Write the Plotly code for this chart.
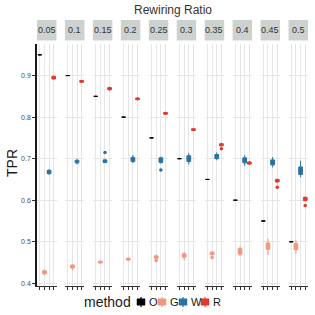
import plotly.graph_objects as go

ratios = ["0.05", "0.1", "0.15", "0.2", "0.25", "0.3", "0.35", "0.4", "0.45", "0.5"]
methods = ["O", "G", "W", "R"]
colors = {"O": "#000000", "G": "#F3967E", "W": "#2B72A3", "R": "#E2382D"}

# O (constant)
O_med = [0.95, 0.90, 0.85, 0.80, 0.75, 0.70, 0.65, 0.60, 0.55, 0.50]

# G
G_low = [0.419, 0.431, 0.447, 0.453, 0.458, 0.455, 0.466, 0.465, 0.468, 0.472]
G_q1 = [0.423, 0.437, 0.449, 0.456, 0.460, 0.463, 0.469, 0.470, 0.482, 0.481]
G_med = [0.427, 0.441, 0.451, 0.458, 0.463, 0.467, 0.472, 0.477, 0.489, 0.488]
G_q3 = [0.430, 0.444, 0.453, 0.460, 0.466, 0.471, 0.475, 0.484, 0.497, 0.496]
G_high = [0.433, 0.447, 0.455, 0.462, 0.469, 0.476, 0.478, 0.489, 0.507, 0.504]

# W
W_low = [0.661, 0.686, 0.689, 0.690, 0.688, 0.686, 0.696, 0.683, 0.679, 0.655]
W_q1 = [0.664, 0.690, 0.691, 0.693, 0.691, 0.693, 0.700, 0.690, 0.685, 0.662]
W_med = [0.668, 0.693, 0.694, 0.698, 0.696, 0.700, 0.706, 0.696, 0.691, 0.671]
W_q3 = [0.672, 0.696, 0.697, 0.703, 0.702, 0.707, 0.710, 0.702, 0.697, 0.680]
W_high = [0.675, 0.700, 0.700, 0.709, 0.705, 0.714, 0.715, 0.708, 0.704, 0.695]

# R
R_low = [0.890, 0.882, 0.863, 0.840, 0.805, 0.766, 0.729, 0.685, 0.642, 0.597]
R_q1 = [0.892, 0.884, 0.866, 0.842, 0.807, 0.768, 0.731, 0.687, 0.644, 0.599]
R_med = [0.895, 0.886, 0.868, 0.844, 0.809, 0.770, 0.733, 0.690, 0.647, 0.603]
R_q3 = [0.898, 0.888, 0.871, 0.846, 0.811, 0.772, 0.736, 0.692, 0.650, 0.607]
R_high = [0.900, 0.890, 0.873, 0.848, 0.813, 0.774, 0.738, 0.694, 0.652, 0.609]

# outliers
out_ratio = ["0.15", "0.25", "0.25", "0.35", "0.35", "0.45", "0.5"]
out_method = ["W", "W", "G", "G", "R", "R", "R"]
out_value = [0.715, 0.673, 0.455, 0.462, 0.724, 0.631, 0.587]

stats = {
    "O": (O_med, O_med, O_med, O_med, O_med),
    "G": (G_low, G_q1, G_med, G_q3, G_high),
    "W": (W_low, W_q1, W_med, W_q3, W_high),
    "R": (R_low, R_q1, R_med, R_q3, R_high),
}

W_px, H_px = 315, 315
L, Rm, T, B = 37, 7, 44, 29
pw = W_px - L - Rm
ph = H_px - T - B
fw = 19.5
gap = (pw - 10 * fw) / 9

def px2x(p):
    return (p - L) / pw

def px2y(p):
    return (H_px - B - p) / ph

fig = go.Figure()
layout = dict(
    width=W_px, height=H_px,
    margin=dict(l=L, r=Rm, t=T, b=B),
    paper_bgcolor="white", plot_bgcolor="white",
    showlegend=False,
    font=dict(family="Liberation Sans, Arial, sans-serif", color="#333333"),
)

shapes = []
annotations = []
for i, r in enumerate(ratios):
    ax = "x" if i == 0 else f"x{i+1}"
    axkey = "xaxis" if i == 0 else f"xaxis{i+1}"
    d0 = i * (fw + gap) / pw
    d1 = (i * (fw + gap) + fw) / pw
    layout[axkey] = dict(
        domain=[d0, d1], range=[0.4, 4.6], tickvals=[1, 2, 3, 4],
        showticklabels=False, ticks="outside", ticklen=3, tickcolor="#333333",
        tickwidth=1, showline=True, linecolor="#333333", linewidth=1,
        showgrid=True, gridcolor="#E6E6E6", gridwidth=1, zeroline=False,
        anchor="y",
    )
    for j, m in enumerate(methods):
        lo, q1, md, q3, hi = stats[m]
        fig.add_trace(go.Box(
            x=[j + 1], q1=[q1[i]], median=[md[i]], q3=[q3[i]],
            lowerfence=[lo[i]], upperfence=[hi[i]],
            width=0.8, whiskerwidth=0, boxpoints=False,
            fillcolor=colors[m], line=dict(color=colors[m], width=1),
            xaxis=ax, yaxis="y",
        ))
    # outliers
    for orr, om, ov in zip(out_ratio, out_method, out_value):
        if orr == r:
            fig.add_trace(go.Scatter(
                x=[methods.index(om) + 1], y=[ov], mode="markers",
                marker=dict(color=colors[om], size=3.5),
                xaxis=ax, yaxis="y",
            ))
    # strip
    shapes.append(dict(type="rect", xref="paper", yref="paper",
                       x0=d0, x1=d1, y0=px2y(40.5), y1=px2y(20),
                       fillcolor="#CDD2D0", line=dict(width=0), layer="below"))
    annotations.append(dict(text=r, xref="paper", yref="paper",
                            x=(d0 + d1) / 2, y=px2y(30.5), showarrow=False,
                            font=dict(size=9, color="#333333"),
                            xanchor="center", yanchor="middle"))

layout["yaxis"] = dict(
    range=[0.3935, 0.976], tickvals=[0.4, 0.5, 0.6, 0.7, 0.8, 0.9],
    ticktext=["0.4", "0.5", "0.6", "0.7", "0.8", "0.9"],
    tickfont=dict(size=7, color="#4D4D4D"),
    showline=True, linecolor="#1A1A1A", linewidth=1.5,
    ticks="outside", ticklen=3, tickcolor="#333333",
    showgrid=True, gridcolor="#E6E6E6", gridwidth=1, zeroline=False,
    anchor="x", domain=[0, 1],
)

# titles
annotations.append(dict(text="Rewiring Ratio", xref="paper", yref="paper",
                        x=0.5, y=px2y(10), showarrow=False,
                        font=dict(size=12, color="#333333"),
                        xanchor="center", yanchor="middle"))
annotations.append(dict(text="TPR", xref="paper", yref="paper",
                        x=px2x(12), y=px2y(163), showarrow=False, textangle=-90,
                        font=dict(size=14, color="#1A1A1A"),
                        xanchor="center", yanchor="middle"))

# legend (manual)
ly = 302
annotations.append(dict(text="method", xref="paper", yref="paper",
                        x=px2x(133), y=px2y(ly), showarrow=False,
                        font=dict(size=14, color="#1A1A1A"),
                        xanchor="right", yanchor="middle"))
key_left = [137, 158, 179, 201]
for m, kl in zip(methods, key_left):
    shapes.append(dict(type="line", xref="paper", yref="paper",
                       x0=px2x(kl + 4), x1=px2x(kl + 4),
                       y0=px2y(ly - 5), y1=px2y(ly + 5),
                       line=dict(color=colors[m], width=1.2)))
    shapes.append(dict(type="rect", xref="paper", yref="paper",
                       x0=px2x(kl), x1=px2x(kl + 8),
                       y0=px2y(ly - 3.2), y1=px2y(ly + 3.2),
                       fillcolor=colors[m], line=dict(color=colors[m], width=0.5)))
    annotations.append(dict(text=m, xref="paper", yref="paper",
                            x=px2x(kl + 10), y=px2y(ly), showarrow=False,
                            font=dict(size=11, color="#1A1A1A"),
                            xanchor="left", yanchor="middle"))

layout["shapes"] = shapes
layout["annotations"] = annotations
fig.update_layout(**layout)
fig.write_html("out.html")
